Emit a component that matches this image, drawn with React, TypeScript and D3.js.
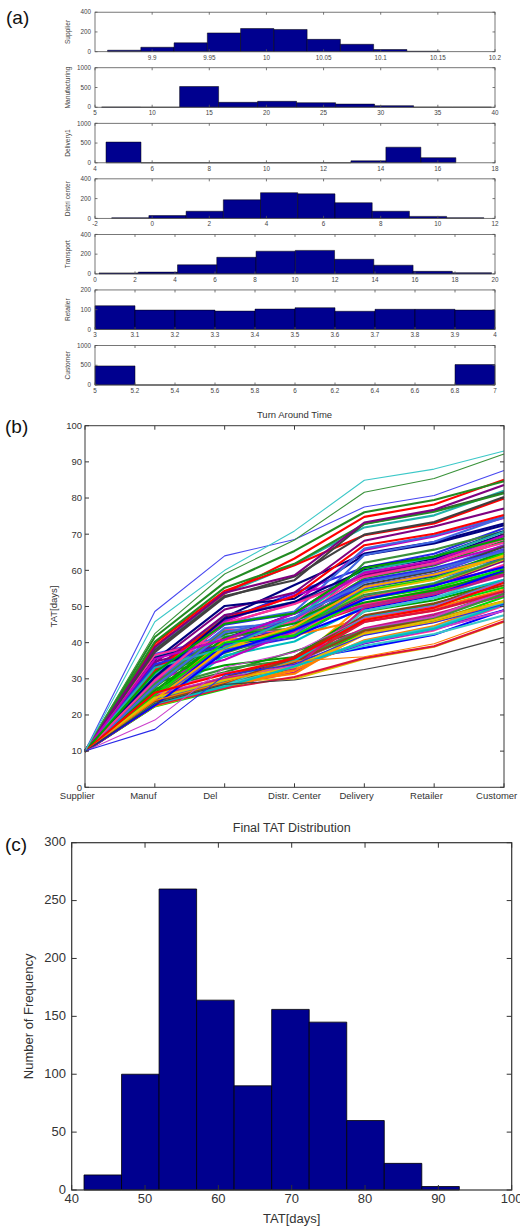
import React from "react";
import * as d3 from "d3";

const FONT = '"Liberation Sans", Arial, Helvetica, sans-serif';

// ---------------- Panel (a): stage histograms ----------------
const aStageLabels = ["Supplier", "Manufacturing", "Delivery1", "Distri center", "Transport", "Retailer", "Customer"];
const supplierCounts = [15, 45, 90, 190, 235, 225, 125, 75, 22, 5];
const manufacturingCounts = [5, 0, 525, 125, 150, 115, 80, 40, 3, 3];
const delivery1Counts = [525, 0, 0, 0, 0, 0, 0, 50, 395, 130];
const distriCounts = [5, 28, 72, 188, 260, 248, 158, 72, 20, 6];
const transportCounts = [10, 18, 92, 168, 230, 238, 148, 88, 26, 12];
const retailerCounts = [120, 98, 98, 93, 103, 110, 92, 102, 102, 98];
const customerCounts = [483, 0, 0, 0, 0, 0, 0, 0, 0, 517];
const aCounts = [supplierCounts, manufacturingCounts, delivery1Counts, distriCounts, transportCounts, retailerCounts, customerCounts];
const aBinRanges = [[9.861, 10.152], [5.58, 39.7], [4.385, 16.63], [-1.417, 11.61], [0.2, 19.83], [3, 4], [5, 7]];
const aXDomains = [[9.85, 10.2], [5, 40], [4, 18], [-2, 12], [0, 20], [3, 4], [5, 7]];
const aXTicks = [
  [9.9, 9.95, 10, 10.05, 10.1, 10.15, 10.2],
  [5, 10, 15, 20, 25, 30, 35, 40],
  [4, 6, 8, 10, 12, 14, 16, 18],
  [-2, 0, 2, 4, 6, 8, 10, 12],
  [0, 2, 4, 6, 8, 10, 12, 14, 16, 18, 20],
  [3, 3.1, 3.2, 3.3, 3.4, 3.5, 3.6, 3.7, 3.8, 3.9, 4],
  [5, 5.2, 5.4, 5.6, 5.8, 6, 6.2, 6.4, 6.6, 6.8, 7],
];
const aYTicks = [[0, 200, 400], [0, 500, 1000], [0, 500, 1000], [0, 200, 400], [0, 200, 400], [0, 100, 200], [0, 500, 1000]];

// ---------------- Panel (b): per-path stage durations ----------------
const bCategories = ["Supplier", "Manuf", "Del", "Distr. Center", "Delivery", "Retailer", "Customer"];
const bYTicks = [0, 10, 20, 30, 40, 50, 60, 70, 80, 90, 100];

const supplierDays = [
  10.00, 9.99, 10.01, 10.02, 9.98, 9.97, 10.00,
  9.97, 10.03, 9.95, 10.01, 10.06, 9.99, 9.92, 10.04, 10.00, 9.96,
  10.02, 9.89, 10.05, 9.98, 10.08, 9.94, 10.01, 10.11, 9.97, 10.03,
  9.93, 10.00, 10.07, 9.99, 9.95, 10.02, 9.91, 10.04, 9.98, 10.06,
  10.01, 9.96, 10.09, 9.87, 10.03, 9.99, 10.05, 9.94, 10.00, 10.02,
  9.97, 10.13, 9.95, 10.04, 9.99, 9.92, 10.01, 10.07, 9.98, 10.03,
  9.96, 10.00, 9.90, 10.05, 10.02, 9.97, 10.10, 9.94, 10.01, 9.99,
  10.04, 9.93, 10.06, 9.98, 10.00, 9.95, 10.03, 9.88, 10.02, 9.97,
  10.08, 9.99, 10.01, 9.96, 10.05, 9.91, 10.00, 10.03, 9.98, 10.15,
  9.94, 10.02, 9.99, 10.06, 9.97, 10.01, 9.93, 10.04, 10.00, 9.96,
  10.02, 9.98, 10.01,
];
const manufDays = [
  35.8, 32.5, 38.6, 6.0, 8.6, 13.2, 14.0,
  16.2, 12.6, 21.8, 13.1, 25.4, 14.8, 28.8, 15.5, 19.5, 13.7,
  17.9, 12.9, 23.0, 14.3, 20.4, 15.2, 30.2, 13.4, 18.6, 14.0,
  24.1, 15.7, 27.3, 12.5, 22.3, 13.9, 16.8, 14.6, 19.9, 13.2,
  22.8, 15.0, 26.5, 12.8, 19.0, 14.4, 21.1, 13.6, 25.8, 15.3,
  31.6, 14.1, 17.3, 12.7, 20.7, 13.0, 23.6, 14.9, 29.1, 15.6,
  16.0, 13.5, 22.0, 14.2, 24.7, 12.4, 18.2, 15.1, 19.3, 13.8,
  26.2, 14.7, 25.1, 13.3, 17.6, 15.4, 21.5, 12.6, 23.3, 14.5,
  27.9, 13.9, 29.8, 15.0, 18.9, 12.9, 20.1, 14.3, 24.4, 13.6,
  16.5, 15.2, 22.5, 14.8, 28.4, 13.1, 22.7, 12.8, 17.1, 14.0,
  20.9, 26.9, 21.3,
];
const deliveryDays = [
  14.2, 16.5, 15.4, 15.0, 14.6, 5.3, 5.0,
  5.1, 14.8, 13.5, 4.7, 5.4, 4.9, 15.1, 14.5, 15.9, 5.2,
  14.9, 4.6, 5.5, 14.3, 16.2, 5.0, 15.0, 4.8, 14.6, 13.8,
  5.3, 4.5, 15.2, 5.1, 14.4, 15.7, 14.7, 4.9, 5.4, 15.3,
  14.8, 13.2, 4.7, 5.2, 15.0, 5.0, 16.4, 4.6, 5.3, 14.5,
  15.1, 4.8, 5.5, 14.9, 14.3, 4.9, 5.1, 15.8, 14.6, 4.4,
  15.2, 5.2, 13.9, 14.8, 5.0, 4.8, 15.4, 5.4, 16.0, 4.7,
  5.3, 14.4, 15.0, 5.1, 14.7, 4.9, 5.6, 15.3, 4.6, 16.3,
  14.9, 5.0, 14.5, 5.2, 4.8, 13.6, 15.1, 5.3, 14.8, 4.5,
  5.1, 15.6, 4.9, 14.6, 15.2, 5.4, 14.4, 5.0, 4.7, 15.5,
  5.2, 4.8, 14.9,
];
const distriDays = [
  10.9, 9.4, 4.5, 3.0, 4.2, 1.2, 5.9,
  4.4, 6.1, 2.9, 5.6, 7.2, 3.5, 4.8, 1.9, 5.3, 6.9,
  4.1, 3.1, 8.3, 5.9, 4.6, 2.7, 6.6, 5.0, 0.6, 4.3,
  7.5, 3.4, 5.7, 4.9, 6.2, 2.2, 3.9, 5.4, 7.9, 4.0,
  3.2, 6.0, 4.7, 6.8, 1.5, 5.2, 3.7, 4.2, 7.0, 5.8,
  8.7, 4.5, 2.6, 5.5, 3.0, 6.4, 4.9, 1.3, 9.6, 3.6,
  4.8, 5.1, 7.4, 2.8, 4.3, 6.0, -0.6, 5.6, 3.3, 7.7,
  4.6, 5.3, 2.0, 6.7, 3.8, 4.1, 5.9, 6.3, 3.5, 6.2,
  4.4, 2.5, 7.1, 5.0, 2.3, 3.9, 5.7, 0.3, 4.7, 6.5,
  3.1, 5.4, 7.3, 4.2, 8.1, 6.1, 8.9, 4.0, 5.8, 3.6,
  6.9, 1.7, 7.6,
];
const transportDays = [
  14.0, 13.2, 9.0, 8.0, 9.5, 2.9, 1.2,
  10.6, 8.4, 12.5, 6.8, 11.3, 9.2, 14.6, 10.1, 7.5, 11.8,
  9.7, 5.3, 12.9, 10.9, 8.8, 16.8, 11.0, 7.1, 9.5, 13.4,
  10.4, 6.4, 11.6, 8.2, 14.1, 7.6, 5.8, 12.2, 9.0, 11.4,
  7.8, 10.2, 13.0, 8.6, 18.7, 11.1, 6.9, 9.9, 12.7, 4.6,
  10.7, 15.2, 8.1, 11.9, 7.3, 9.4, 12.4, 4.4, 11.5, 6.2,
  9.1, 14.9, 5.1, 10.5, 8.5, 13.6, 7.7, 11.2, 17.4, 9.6,
  6.6, 10.0, 12.1, 8.9, 11.7, 4.8, 9.3, 13.2, 10.8, 7.4,
  15.6, 11.3, 8.3, 3.4, 12.6, 9.8, 14.7, 5.6, 14.3, 7.9,
  5.2, 9.1, 12.3, 6.5, 10.2, 16.1, 8.7, 11.8, 5.9, 13.7,
  19.1, 10.9, 7.0,
];
const retailerDays = [
  3.1, 3.8, 3.2, 3.5, 3.3, 3.7, 3.6,
  3.42, 3.87, 3.15, 3.64, 3.28, 3.93, 3.51, 3.07, 3.76, 3.33,
  3.58, 3.21, 3.95, 3.46, 3.12, 3.69, 3.38, 3.82, 3.04, 3.55,
  3.26, 3.71, 3.49, 3.91, 3.18, 3.62, 3.35, 3.08, 3.79, 3.44,
  3.97, 3.23, 3.57, 3.11, 3.66, 3.31, 3.85, 3.47, 3.02, 3.73,
  3.39, 3.59, 3.16, 3.89, 3.27, 3.53, 3.74, 3.09, 3.41, 3.96,
  3.22, 3.67, 3.36, 3.81, 3.13, 3.48, 3.92, 3.29, 3.61, 3.05,
  3.77, 3.43, 3.19, 3.88, 3.54, 3.25, 3.68, 3.37, 3.99, 3.14,
  3.52, 3.83, 3.24, 3.63, 3.06, 3.45, 3.78, 3.32, 3.94, 3.17,
  3.56, 3.71, 3.01, 3.86, 3.34, 3.65, 3.2, 3.5, 3.9, 3.4,
  3.6, 3.3, 3.8,
];
const customerDays = [
  5.0, 6.8, 6.9, 5.1, 6.9, 5.2, 6.9,
  6.9, 5.1, 5.0, 6.8, 7.0, 5.1, 6.9, 5.2, 6.8, 5.0,
  5.1, 6.9, 7.0, 5.0, 6.8, 5.2, 5.1, 6.9, 7.0, 6.8,
  5.0, 5.1, 6.9, 6.8, 5.2, 7.0, 5.1, 6.9, 5.0, 6.8,
  6.9, 7.0, 5.1, 5.0, 6.8, 5.2, 6.9, 5.1, 7.0, 5.0,
  5.2, 6.8, 6.9, 5.1, 5.0, 7.0, 6.8, 5.1, 6.9, 5.2,
  6.8, 5.0, 5.1, 6.9, 7.0, 5.0, 6.8, 6.9, 5.2, 5.1,
  7.0, 6.9, 5.0, 5.1, 6.8, 5.2, 6.9, 5.0, 7.0, 6.8,
  5.1, 5.0, 6.9, 6.8, 5.2, 7.0, 5.1, 6.9, 5.0, 6.8,
  6.9, 5.1, 7.0, 5.0, 6.8, 5.2, 5.1, 6.9, 6.8, 5.0,
  5.1, 5.0, 7.0,
];
const stageDays = [supplierDays, manufDays, deliveryDays, distriDays, transportDays, retailerDays, customerDays];

// ---------------- Panel (c): final TAT histogram ----------------
const finalCounts = [13, 100, 260, 164, 90, 156, 145, 60, 23, 3];
const finalBinRange = [41.68, 92.86];
const cXTicks = [40, 50, 60, 70, 80, 90, 100];
const cYTicks = [0, 50, 100, 150, 200, 250, 300];

// ---------------- styling ----------------
const BAR = "#00008f";
const bLabelShift = [-7.7, -11.5, -14.3, 0, -7.7, -7.7, -7.3];
const lineColors = [
  "#3cc8c8", "#3a923a", "#4848f0", "#2828e8", "#cc40cc", "#404040", "#ff7f00",
  "#ff0000", "#0000ff", "#00a000", "#00bfbf", "#bf00bf", "#e0c000", "#800080",
  "#00e000", "#ff3399", "#8b4513", "#4169e1", "#dc143c", "#20b2aa", "#ffa500",
  "#000080", "#c71585", "#228b22",
];

function HistAxes({ i }: { i: number }) {
  const left = 95, right = 495, h = 39.5;
  const bottom = 51.7 + 55.55 * i;
  const top = bottom - h;
  const x = d3.scaleLinear().domain(aXDomains[i]).range([left, right]);
  const yT = aYTicks[i];
  const y = d3.scaleLinear().domain([0, yT[yT.length - 1]]).range([bottom, top]);
  const counts = aCounts[i];
  const [lo, hi] = aBinRanges[i];
  const w = (hi - lo) / counts.length;
  const tl = 2.5;
  const col = "#555";
  return (
    <g>
      {counts.map((c, k) => {
        const x0 = x(lo + k * w), x1 = x(lo + (k + 1) * w), y0 = y(0), y1 = y(c);
        return <path key={k} d={`M${x0},${y0}V${y1}H${x1}V${y0}Z`} fill={BAR} stroke="#000" strokeWidth={0.5} />;
      })}
      <rect x={left} y={top} width={right - left} height={h} fill="none" stroke={col} strokeWidth={0.8} />
      {aXTicks[i].map((t) => (
        <g key={"x" + t}>
          <line x1={x(t)} x2={x(t)} y1={bottom} y2={bottom - tl} stroke={col} strokeWidth={0.8} />
          <line x1={x(t)} x2={x(t)} y1={top} y2={top + tl} stroke={col} strokeWidth={0.8} />
          <text x={x(t)} y={bottom + 7.8} fontSize={6.3} textAnchor="middle" fill="#444" fontFamily={FONT}>{String(t)}</text>
        </g>
      ))}
      {yT.map((t) => (
        <g key={"y" + t}>
          <line x1={left} x2={left + tl} y1={y(t)} y2={y(t)} stroke={col} strokeWidth={0.8} />
          <line x1={right} x2={right - tl} y1={y(t)} y2={y(t)} stroke={col} strokeWidth={0.8} />
          <text x={91} y={y(t)} dy="0.35em" fontSize={6.3} textAnchor="end" fill="#444" fontFamily={FONT}>{String(t)}</text>
        </g>
      ))}
      <text transform={`translate(70,${(top + bottom) / 2}) rotate(-90)`} fontSize={6.6} textAnchor="middle" fill="#444" fontFamily={FONT}>{aStageLabels[i]}</text>
    </g>
  );
}

function PanelB() {
  const left = 85, right = 504, top = 425.7, bottom = 787.3;
  const x = d3.scalePoint<string>().domain(bCategories).range([left, right]);
  const y = d3.scaleLinear().domain([0, 100]).range([bottom, top]);
  const n = stageDays[0].length;
  const paths = d3.range(n).map((i) => {
    let acc = 0;
    return stageDays.map((arr) => (acc += arr[i]));
  });
  const line = d3.line<number>().x((_, k) => x(bCategories[k]) as number).y((v) => y(v));
  const tl = 4;
  const col = "#3a3a3a";
  const order = d3.range(n).reverse();
  return (
    <g>
      {order.map((i) => (
        <path key={i} d={line(paths[i]) || ""} fill="none" stroke={lineColors[i % lineColors.length]} strokeWidth={i < 7 ? 1.1 : 2.1} strokeLinejoin="round" />
      ))}
      <rect x={left} y={top} width={right - left} height={bottom - top} fill="none" stroke={col} strokeWidth={1} />
      {bCategories.map((c, k) => (
        <g key={c}>
          <line x1={x(c)} x2={x(c)} y1={bottom} y2={bottom - tl} stroke={col} />
          <line x1={x(c)} x2={x(c)} y1={top} y2={top + tl} stroke={col} />
          <text x={(x(c) as number) + bLabelShift[k]} y={bottom + 12} fontSize={9.5} textAnchor="middle" fill="#333" fontFamily={FONT}>{c}</text>
        </g>
      ))}
      {bYTicks.map((t) => (
        <g key={t}>
          <line x1={left} x2={left + tl} y1={y(t)} y2={y(t)} stroke={col} />
          <line x1={right} x2={right - tl} y1={y(t)} y2={y(t)} stroke={col} />
          <text x={82} y={y(t)} dy="0.35em" fontSize={9.5} textAnchor="end" fill="#333" fontFamily={FONT}>{t}</text>
        </g>
      ))}
      <text x={(left + right) / 2} y={418} fontSize={9.5} textAnchor="middle" fill="#333" fontFamily={FONT}>Turn Around Time</text>
      <text transform={`translate(57,${(top + bottom) / 2}) rotate(-90)`} fontSize={9.5} textAnchor="middle" fill="#333" fontFamily={FONT}>TAT[days]</text>
    </g>
  );
}

function PanelC() {
  const left = 71.7, right = 511.7, top = 842.7, bottom = 1190;
  const x = d3.scaleLinear().domain([40, 100]).range([left, right]);
  const y = d3.scaleLinear().domain([0, 300]).range([bottom, top]);
  const [lo, hi] = finalBinRange;
  const w = (hi - lo) / finalCounts.length;
  const tl = 5;
  const col = "#333";
  return (
    <g>
      {finalCounts.map((c, k) => {
        const x0 = x(lo + k * w), x1 = x(lo + (k + 1) * w), y0 = y(0), y1 = y(c);
        return <path key={k} d={`M${x0},${y0}V${y1}H${x1}V${y0}Z`} fill={BAR} stroke="#000" strokeWidth={0.8} />;
      })}
      <rect x={left} y={top} width={right - left} height={bottom - top} fill="none" stroke={col} strokeWidth={1.2} />
      {cXTicks.map((t) => (
        <g key={t}>
          <line x1={x(t)} x2={x(t)} y1={bottom} y2={bottom - tl} stroke={col} />
          <line x1={x(t)} x2={x(t)} y1={top} y2={top + tl} stroke={col} />
          <text x={x(t)} y={1203} fontSize={13} textAnchor="middle" fill="#333" fontFamily={FONT}>{t}</text>
        </g>
      ))}
      {cYTicks.map((t) => (
        <g key={t}>
          <line x1={left} x2={left + tl} y1={y(t)} y2={y(t)} stroke={col} />
          <line x1={right} x2={right - tl} y1={y(t)} y2={y(t)} stroke={col} />
          <text x={66} y={y(t) - 1} dy="0.35em" fontSize={13} textAnchor="end" fill="#333" fontFamily={FONT}>{t}</text>
        </g>
      ))}
      <text x={(left + right) / 2} y={832} fontSize={12.5} textAnchor="middle" fill="#333" fontFamily={FONT}>Final TAT Distribution</text>
      <text x={(left + right) / 2} y={1223} fontSize={13} textAnchor="middle" fill="#333" fontFamily={FONT}>TAT[days]</text>
      <text transform={`translate(33,${(top + bottom) / 2}) rotate(-90)`} fontSize={13} textAnchor="middle" fill="#333" fontFamily={FONT}>Number of Frequency</text>
    </g>
  );
}

export default function App() {
  return (
    <svg width={520} height={1227} viewBox="0 0 520 1227" style={{ position: "absolute", left: 0, top: 0, background: "#fff" }}>
      <rect width={520} height={1227} fill="#fff" />
      <text x={6} y={24} fontSize={19} fill="#111" fontFamily={FONT}>(a)</text>
      {aStageLabels.map((_, i) => <HistAxes key={i} i={i} />)}
      <text x={5} y={433} fontSize={19} fill="#111" fontFamily={FONT}>(b)</text>
      <PanelB />
      <text x={5} y={851} fontSize={19} fill="#111" fontFamily={FONT}>(c)</text>
      <PanelC />
    </svg>
  );
}
